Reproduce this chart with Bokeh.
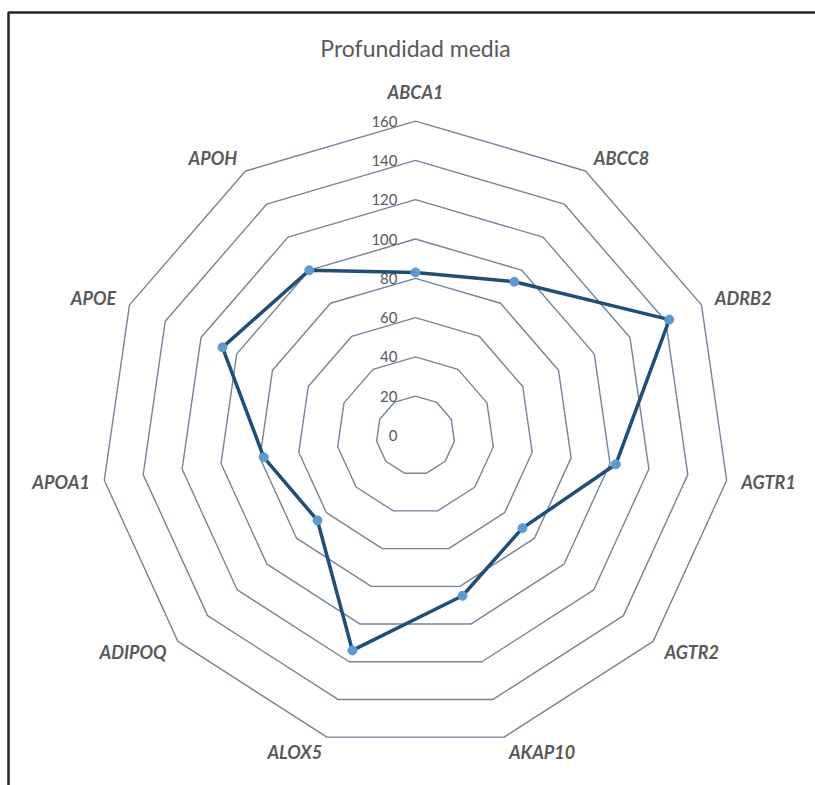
import numpy as np
from bokeh.plotting import figure
from bokeh.models import BoxAnnotation
from bokeh.core.properties import value
from bokeh.embed import file_html
from bokeh.resources import INLINE

title_text = "Profundidad media"
categories = ["ABCA1", "ABCC8", "ADRB2", "AGTR1", "AGTR2", "AKAP10",
              "ALOX5", "ADIPOQ", "APOA1", "APOE", "APOH"]
values = [83, 93, 142, 103, 72, 85, 114, 66, 78, 108, 100]
ticks = [0, 20, 40, 60, 80, 100, 120, 140, 160]

W, H = 815, 785
cx_px, cy_px = 415, 435
px_per_unit = 39.3 / 20.0
u = 1.0 / px_per_unit

p = figure(width=W, height=H, output_backend="svg", toolbar_location=None,
           x_range=(-cx_px * u, (W - cx_px) * u),
           y_range=(-(H - cy_px) * u, cy_px * u),
           min_border=0, min_border_left=0, min_border_right=0,
           min_border_top=0, min_border_bottom=0)
p.axis.visible = False
p.grid.visible = False
p.outline_line_color = None
p.background_fill_color = "white"
p.border_fill_color = "white"

n = len(categories)
ang = np.pi / 2 - np.arange(n) * 2 * np.pi / n

# gridline polygons
grid_xs, grid_ys = [], []
for t in ticks[1:]:
    grid_xs.append(list(t * np.cos(ang)) + [t * np.cos(ang[0])])
    grid_ys.append(list(t * np.sin(ang)) + [t * np.sin(ang[0])])
p.multi_line(grid_xs, grid_ys, line_color="#74849a", line_width=1.4)

# tick labels
p.text(x=[-18 * u] * len(ticks), y=ticks, text=[str(t) for t in ticks],
       text_align="right", text_baseline="middle", text_color="#595959",
       text_font=value("Lato"), text_font_size="15px")

# series
vals = np.array(values, dtype=float)
sx = vals * np.cos(ang)
sy = vals * np.sin(ang)
p.line(list(sx) + [sx[0]], list(sy) + [sy[0]], line_color="#1f4e79", line_width=3.5)
p.scatter(sx, sy, size=9, fill_color="#5b9bd5", line_color="#5b9bd5")

# category labels, placed outside an anchor circle
R0 = 328 * u
groups = {"left": ([], [], []), "right": ([], [], []), "top": ([], [], [])}
for name, a in zip(categories, ang):
    ax_, ay_ = R0 * np.cos(a), R0 * np.sin(a)
    if abs(np.cos(a)) < 0.1:
        groups["top"][0].append(ax_)
        groups["top"][1].append(ay_ + 5 * u)
        groups["top"][2].append(name)
    elif np.cos(a) > 0:
        groups["right"][0].append(ax_ + 1 * u)
        groups["right"][1].append(ay_ + 2 * np.sin(a) * u)
        groups["right"][2].append(name)
    else:
        groups["left"][0].append(ax_ - 1 * u)
        groups["left"][1].append(ay_ + 2 * np.sin(a) * u)
        groups["left"][2].append(name)

for key, align, base in [("top", "center", "bottom"), ("right", "left", "middle"),
                         ("left", "right", "middle")]:
    gx, gy, gt = groups[key]
    p.text(x=gx, y=gy, text=gt, text_align=align, text_baseline=base,
           text_color="#595959", text_font=value("Lato"), text_font_size="18px",
           text_font_style="bold italic")

# title
p.text(x=[0], y=[(cy_px - 47) * u], text=[title_text], text_align="center",
       text_baseline="middle", text_color="#595959", text_font=value("Lato"),
       text_font_size="23px")

# frame border (cut at right/bottom)
p.add_layout(BoxAnnotation(left=(8 - cx_px) * u, top=(cy_px - 12) * u,
                           right=(W + 20 - cx_px) * u, bottom=-(H + 20 - cy_px) * u,
                           fill_color=None, fill_alpha=0,
                           line_color="#262626", line_alpha=1.0, line_width=2.5))

open("out.html", "w").write(file_html(p, INLINE))
